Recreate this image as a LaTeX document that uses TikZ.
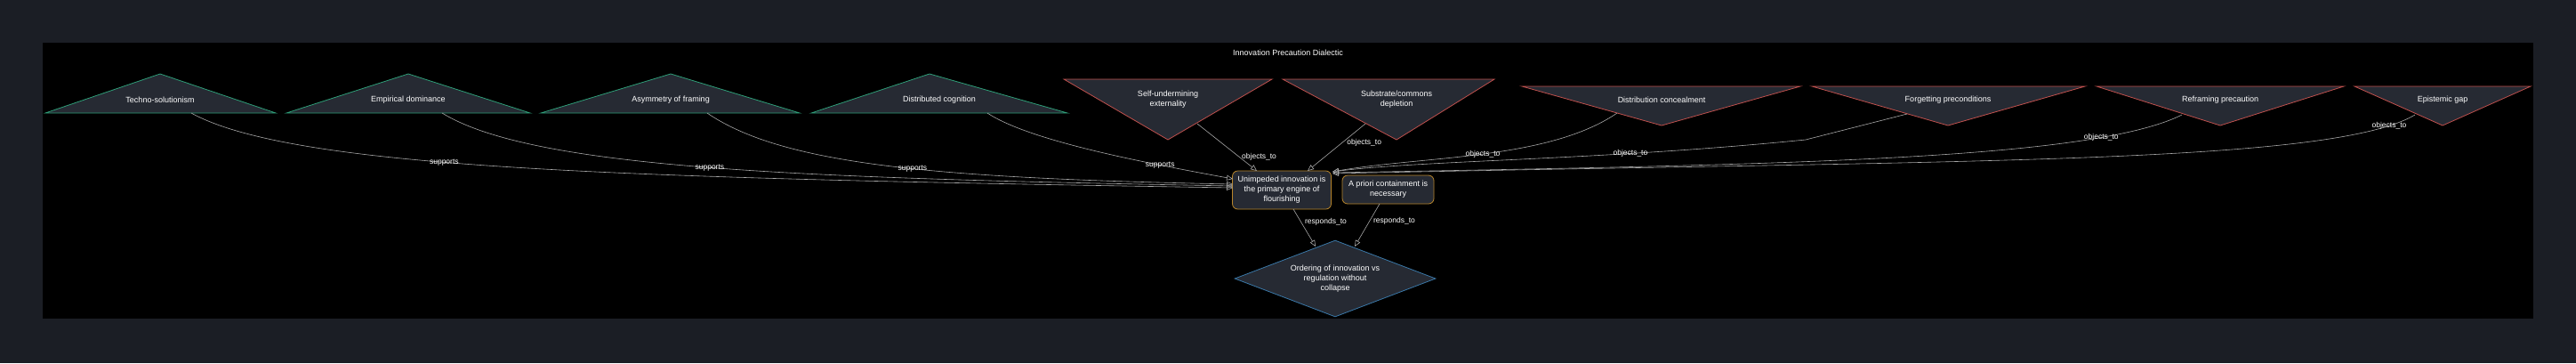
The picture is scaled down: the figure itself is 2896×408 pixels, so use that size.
\documentclass[tikz,border=0pt]{standalone}
\usepackage{fontspec}
\setmainfont{Liberation Sans}
\usetikzlibrary{arrows.meta,shapes.geometric}
\definecolor{pagebg}{HTML}{1B1E25}
\definecolor{nodebg}{HTML}{262A33}
\definecolor{supgreen}{HTML}{2E9E78}
\definecolor{objred}{HTML}{C0504D}
\definecolor{claimgold}{HTML}{B8862B}
\definecolor{issueblue}{HTML}{3A78A8}
\definecolor{edgegray}{HTML}{A8A8A8}

\tikzset{
  txt/.style={text=white, font=\fontsize{9}{11}\selectfont, align=center},
  lbl/.style={text=white, font=\fontsize{8.5}{10}\selectfont, inner sep=1pt},
  sup/.style={fill=nodebg, draw=supgreen, line width=0.8pt},
  obj/.style={fill=nodebg, draw=objred, line width=0.8pt},
  claim/.style={txt, fill=nodebg, draw=claimgold, line width=0.8pt, rounded corners=6pt},
  link/.style={draw=edgegray, line width=0.6pt, -{Triangle[open,length=7pt,width=6pt]}},
}

\begin{document}
\begin{tikzpicture}[x=1pt,y=-1pt]
\useasboundingbox (0,0) rectangle (2896,408);
\fill[pagebg] (0,0) rectangle (2896,408);
\fill[black] (48,48) rectangle (2848,358);

\node[txt] (title) at (1448,59) {Innovation Precaution Dialectic};

% supports (triangles up)
\draw[sup] (51,127)--(180,83)--(310,127)--cycle;
\draw[sup] (322,127)--(459,83)--(596,127)--cycle;
\draw[sup] (608,127)--(754,83)--(899,127)--cycle;
\draw[sup] (912,127)--(1045,83)--(1200,127)--cycle;
\node[txt] (techno) at (180,112) {Techno-solutionism};
\node[txt] (empir) at (459,112) {Empirical dominance};
\node[txt] (asym) at (754,112) {Asymmetry of framing};
\node[txt] (distcog) at (1056,112) {Distributed cognition};

% objections (triangles down)
\draw[obj] (1196,89)--(1430,89)--(1313,157)--cycle;
\draw[obj] (1442,89)--(1680,89)--(1570,157)--cycle;
\draw[obj] (1711,97)--(2024,97)--(1868,141)--cycle;
\draw[obj] (2037,97)--(2344,97)--(2190,141)--cycle;
\draw[obj] (2357,97)--(2635,97)--(2496,141)--cycle;
\draw[obj] (2647,97)--(2845,97)--(2746,141)--cycle;
\node[txt] (selfund) at (1313,112) {Self-undermining\\externality};
\node[txt] (substr) at (1570,112) {Substrate/commons\\depletion};
\node[txt] (distconc) at (1868,112) {Distribution concealment};
\node[txt] (forget) at (2190,112) {Forgetting preconditions};
\node[txt] (refram) at (2496,112) {Reframing precaution};
\node[txt] (epist) at (2746,112) {Epistemic gap};

% claims
\node[claim, minimum width=111pt, minimum height=43pt] (unimp) at (1441,213.5)
  {Unimpeded innovation is\\the primary engine of\\flourishing};
\node[claim, minimum width=103pt, minimum height=32pt] (apriori) at (1560.5,213)
  {A priori containment is\\necessary};
\node[txt, draw=issueblue, fill=nodebg, line width=0.8pt, diamond, aspect=2.6,
  minimum width=226pt, minimum height=86pt, inner sep=0pt] (issue) at (1501,313)
  {Ordering of innovation vs\\regulation without\\collapse};

% edge ends
\coordinate (sT) at (215,127);
\coordinate (sE) at (497,127);
\coordinate (sA) at (795,127);
\coordinate (sD) at (1110,127);
\coordinate (oS) at (1346,139);
\coordinate (oC) at (1535,139);
\coordinate (oD) at (1818,127);
\coordinate (oF) at (2144,128);
\coordinate (oR) at (2453,129);
\coordinate (oE) at (2715,129);

% supports
\draw[link] (sT) .. controls (330,190) and (700,200) .. (1386,211) node[lbl, pos=0.42] {supports};
\draw[link] (sE) .. controls (600,190) and (900,200) .. (1386,209) node[lbl, pos=0.5] {supports};
\draw[link] (sA) .. controls (880,185) and (1050,200) .. (1386,207) node[lbl, pos=0.55] {supports};
\draw[link] (sD) .. controls (1160,160) and (1300,185) .. (1386,201) node[lbl, pos=0.72] {supports};

% objections
\draw[link] (oS) -- (1413,192) node[lbl, pos=0.7, right=2pt] {objects\_to};
\draw[link] (oC) -- (1470,192) node[lbl, pos=0.4, right=4pt] {objects\_to};
\draw[link] (oD) .. controls (1740,180) and (1600,175) .. (1498,193) node[lbl, pos=0.5] {objects\_to};
\draw[link] (oF) -- (2030,157) .. controls (1800,180) and (1600,180) .. (1498,193) node[lbl, pos=0.3] {objects\_to};
\draw[link] (oR) .. controls (2350,180) and (2000,185) .. (1498,194) node[lbl, pos=0.2] {objects\_to};
\draw[link] (oE) .. controls (2620,185) and (2200,180) .. (1498,195) node[lbl, pos=0.08] {objects\_to};

% responds
\draw[link] (1454,235) -- (1479,277) node[lbl, pos=0.35, right=3pt] {responds\_to};
\draw[link] (1551,229) -- (1523,277) node[lbl, pos=0.4, right=3pt] {responds\_to};
\end{tikzpicture}
\end{document}
